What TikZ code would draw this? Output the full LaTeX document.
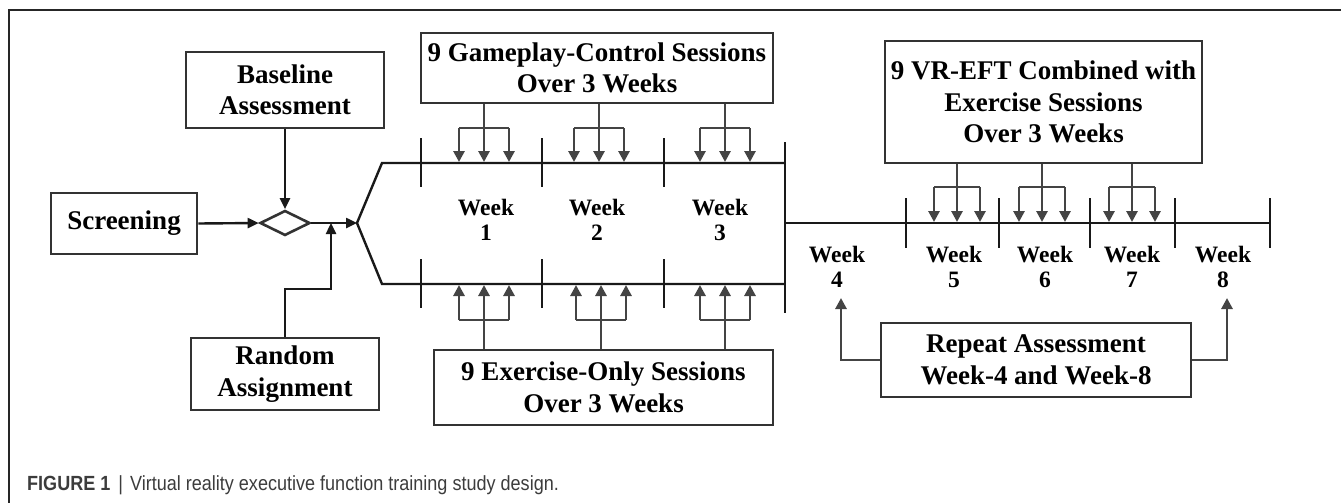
\documentclass[tikz,border=0pt]{standalone}
\usepackage{fontspec}
\setmainfont{Liberation Serif}
\newfontfamily\capfont{Liberation Sans}
\usetikzlibrary{arrows.meta,shapes.geometric}
\definecolor{boxgray}{HTML}{333333}
\definecolor{arrgray}{HTML}{444444}
\definecolor{capgray}{HTML}{3C3C3C}
\tikzset{
  box/.style={draw=boxgray, line width=2.8pt, inner sep=0pt, align=center,
    font=\bfseries\fontsize{27}{31.5}\selectfont},
  line/.style={draw=black!90, line width=2.4pt},
  tick/.style={draw=black!90, line width=2.4pt},
  blackarrow/.style={draw=black!90, line width=2.4pt, -{Triangle[length=11pt,width=10pt]}},
  grayarrow/.style={draw=arrgray, line width=2.8pt, -{Triangle[length=11pt,width=11pt]}},
  graystem/.style={draw=arrgray, line width=2.8pt},
  weeklbl/.style={align=center, inner sep=0pt, font=\bfseries\fontsize{23.5}{24.5}\selectfont},
}
\begin{document}
\begin{tikzpicture}[x=1pt,y=-1pt]
\useasboundingbox (0,0) rectangle (1341,503);
% frame
\draw[line width=1.5pt, black!85] (9,503) -- (9,10) -- (1341,10);

% boxes
\node[box, minimum width=146pt, minimum height=61pt] (screen) at (124,223.5) {Screening};
\node[box, minimum width=198pt, minimum height=76pt] (base) at (285,90) {Baseline\\Assessment};
\node[box, minimum width=188pt, minimum height=72pt] (rand) at (285,374) {Random\\Assignment};
\node[draw=boxgray, line width=2.6pt, diamond, inner sep=0pt, minimum width=50pt, minimum height=25pt] (dia) at (285,223) {};
\node[box, minimum width=352pt, minimum height=70pt] (game) at (597,68) {9 Gameplay-Control Sessions\\Over 3 Weeks};
\node[box, minimum width=339pt, minimum height=75pt] (exer) at (603.5,387.5) {9 Exercise-Only Sessions\\Over 3 Weeks};
\node[box, minimum width=317pt, minimum height=122pt] (vr) at (1043.5,102) {9 VR-EFT Combined with\\Exercise Sessions\\Over 3 Weeks};
\node[box, minimum width=310pt, minimum height=74pt] (rep) at (1036,360) {Repeat Assessment\\Week-4 and Week-8};

% coordinates
\coordinate (fork) at (357,223);
\coordinate (join) at (331,223);
\coordinate (ftop) at (382,163);
\coordinate (fbot) at (382,284);
\coordinate (etop) at (785,163);
\coordinate (ebot) at (785,284);
\coordinate (vtop) at (785,142);
\coordinate (vbot) at (785,313);
\coordinate (mid) at (785,223);
\coordinate (tend) at (1270,223);
\coordinate (w4) at (841,298);
\coordinate (w8) at (1227,298);

% left flow
\draw[blackarrow] (screen.east) -- (dia.west);
\draw[blackarrow] (base.south) -- (dia.north);
\draw[blackarrow] (dia.east) -- (fork);
\draw[blackarrow] (rand.north) -- (285,289) -| (join);

% fork and timelines
\draw[line, line join=miter] (etop) -- (ftop) -- (fork) -- (fbot) -- (ebot);
\draw[line] (vtop) -- (vbot);
\draw[line] (mid) -- (tend);

% ticks
\foreach \x/\n in {421/a,542/b,664/c} {
  \coordinate (tt\n) at (\x,138);
  \coordinate (tb\n) at (\x,187);
  \coordinate (bt\n) at (\x,259);
  \coordinate (bb\n) at (\x,308);
  \draw[tick] (tt\n) -- (tb\n);
  \draw[tick] (bt\n) -- (bb\n);
}
\foreach \x/\n in {906/d,999/e,1090/f,1175/g,1270/h} {
  \coordinate (rt\n) at (\x,198);
  \coordinate (rb\n) at (\x,248);
  \draw[tick] (rt\n) -- (rb\n);
}

% gameplay arrows
\foreach \x/\n in {484/1,599/2,725/3} {
  \coordinate (gs\n) at (\x,128);
  \draw[graystem] (game.south -| gs\n) -- (gs\n);
  \draw[graystem] ([xshift=-25pt]gs\n) -- ([xshift=25pt]gs\n);
  \foreach \d/\m in {-25/l,0/c,25/r} {
    \coordinate (ga\n\m) at (\x+\d,162);
    \draw[grayarrow] ([xshift=\d pt]gs\n) -- (ga\n\m);
  }
}
% exercise arrows
\foreach \x/\n in {484/1,601/2,725/3} {
  \coordinate (es\n) at (\x,320);
  \draw[graystem] (exer.north -| es\n) -- (es\n);
  \draw[graystem] ([xshift=-25pt]es\n) -- ([xshift=25pt]es\n);
  \foreach \d/\m in {-25/l,0/c,25/r} {
    \coordinate (ea\n\m) at (\x+\d,285);
    \draw[grayarrow] ([xshift=\d pt]es\n) -- (ea\n\m);
  }
}
% VR arrows
\foreach \x/\n in {957/1,1042/2,1132/3} {
  \coordinate (vs\n) at (\x,187);
  \draw[graystem] (vr.south -| vs\n) -- (vs\n);
  \draw[graystem] ([xshift=-23pt]vs\n) -- ([xshift=23pt]vs\n);
  \foreach \d/\m in {-23/l,0/c,23/r} {
    \coordinate (va\n\m) at (\x+\d,222);
    \draw[grayarrow] ([xshift=\d pt]vs\n) -- (va\n\m);
  }
}

% repeat arrows
\draw[grayarrow] (rep.west) -| (w4);
\draw[grayarrow] (rep.east) -| (w8);

% week labels
\node[weeklbl] (wk1) at (486,220) {Week\\1};
\node[weeklbl] (wk2) at (597,220) {Week\\2};
\node[weeklbl] (wk3) at (720,220) {Week\\3};
\node[weeklbl] (wk4) at (837,267) {Week\\4};
\node[weeklbl] (wk5) at (954,267) {Week\\5};
\node[weeklbl] (wk6) at (1045,267) {Week\\6};
\node[weeklbl] (wk7) at (1132,267) {Week\\7};
\node[weeklbl] (wk8) at (1223,267) {Week\\8};

% caption
\node[anchor=base west, inner sep=0pt, text=capgray, font=\capfont\fontsize{20.5}{23}\selectfont] (cap) at (27,490)
  {\scalebox{0.88}[1]{\textbf{FIGURE 1}\hspace{9pt}|\hspace{8pt}Virtual reality executive function training study design.}};
\end{tikzpicture}
\end{document}
